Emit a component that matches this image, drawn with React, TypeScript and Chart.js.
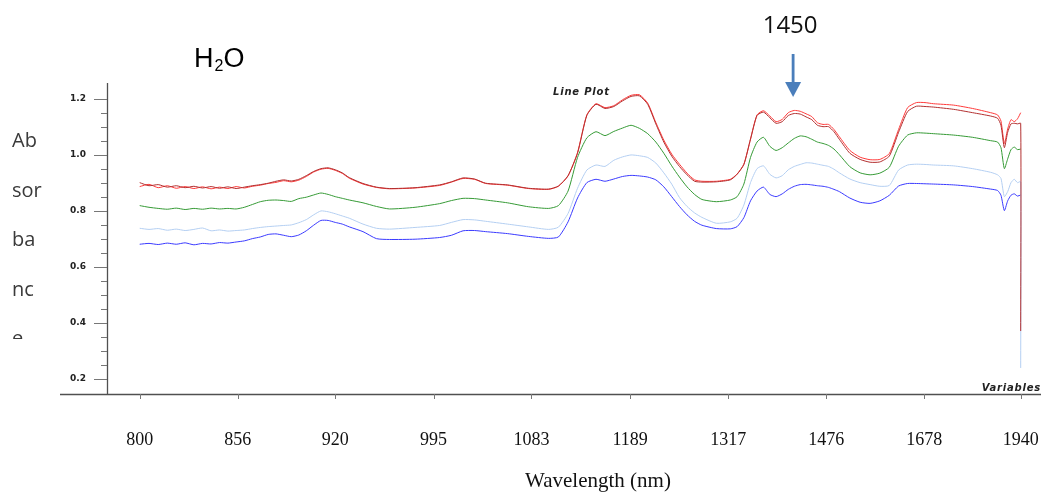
import React, { useEffect, useRef } from "react";
import { Chart, registerables } from "chart.js";

Chart.register(...registerables);

// ---------- data ----------
const WAVELENGTHS_NM = [
  800, 805, 810, 815, 820, 825, 830, 835, 840, 845, 850, 855, 860, 865, 870, 875, 880, 885, 890, 895, 900, 905, 910, 915, 920, 925, 930,
  940, 950, 960, 980, 1000, 1010, 1020, 1030, 1040, 1060, 1080, 1100,
  1110, 1120, 1130, 1140, 1150, 1160, 1170, 1180, 1190, 1200, 1210, 1220, 1230, 1240, 1250, 1260, 1270, 1280,
  1300, 1320, 1330, 1340, 1350, 1360, 1370, 1380, 1390, 1400, 1410, 1420, 1430, 1440, 1450, 1460, 1470, 1480, 1490, 1500,
  1520, 1540, 1560, 1580, 1600, 1620, 1640, 1660, 1680, 1700,
  1750, 1800, 1850, 1870, 1880, 1890, 1900, 1910, 1920, 1930, 1940, 1940,
];

const SERIES_DARK_RED = [
  0.900, 0.889, 0.893, 0.884, 0.889, 0.882, 0.887, 0.881, 0.886, 0.880, 0.885, 0.879, 0.884, 0.889, 0.893, 0.898, 0.905, 0.910, 0.906, 0.912, 0.925, 0.940, 0.950, 0.953, 0.946, 0.935, 0.918,
  0.897, 0.884, 0.879, 0.882, 0.892, 0.903, 0.917, 0.913, 0.898, 0.892, 0.880, 0.877,
  0.888, 0.925, 1.005, 1.140, 1.180, 1.165, 1.172, 1.192, 1.208, 1.210, 1.180, 1.110, 1.045, 0.995, 0.958, 0.928, 0.905, 0.902,
  0.903, 0.910, 0.930, 0.965, 1.055, 1.140, 1.152, 1.132, 1.112, 1.118, 1.140, 1.147, 1.145, 1.135, 1.125, 1.105, 1.100, 1.100, 1.082, 1.055,
  1.005, 0.983, 0.973, 0.974, 0.995, 1.080, 1.154, 1.173, 1.172, 1.170,
  1.162, 1.150, 1.138, 1.130, 1.105, 1.025, 1.080, 1.110, 1.112, 1.110, 1.112, 0.370,
];

const SERIES_RED = [
  0.886, 0.894, 0.882, 0.889, 0.880, 0.886, 0.879, 0.885, 0.878, 0.884, 0.879, 0.886, 0.881, 0.887, 0.891, 0.897, 0.901, 0.907, 0.903, 0.909, 0.922, 0.938, 0.948, 0.951, 0.944, 0.933, 0.916,
  0.895, 0.883, 0.878, 0.881, 0.890, 0.902, 0.915, 0.912, 0.897, 0.891, 0.879, 0.876,
  0.887, 0.924, 1.008, 1.142, 1.182, 1.168, 1.175, 1.196, 1.212, 1.214, 1.184, 1.115, 1.052, 1.002, 0.966, 0.934, 0.910, 0.905,
  0.905, 0.912, 0.931, 0.966, 1.056, 1.142, 1.157, 1.138, 1.118, 1.126, 1.150, 1.158, 1.155, 1.146, 1.136, 1.114, 1.108, 1.108, 1.090, 1.064,
  1.015, 0.991, 0.982, 0.983, 1.004, 1.090, 1.168, 1.186, 1.186, 1.182,
  1.177, 1.165, 1.150, 1.142, 1.120, 1.040, 1.092, 1.125, 1.118, 1.128, 1.150, 1.150,
];

const SERIES_GREEN = [
  0.818, 0.812, 0.808, 0.805, 0.809, 0.804, 0.808, 0.805, 0.809, 0.806, 0.808, 0.806, 0.812, 0.822, 0.832, 0.837, 0.838, 0.836, 0.833, 0.843, 0.848, 0.856, 0.863, 0.858, 0.850, 0.844, 0.838,
  0.828, 0.815, 0.806, 0.812, 0.825, 0.836, 0.844, 0.843, 0.838, 0.828, 0.814, 0.808,
  0.818, 0.870, 0.990, 1.060, 1.082, 1.068, 1.083, 1.095, 1.105, 1.094, 1.075, 1.045, 1.005, 0.960, 0.920, 0.885, 0.858, 0.840,
  0.832, 0.838, 0.850, 0.895, 0.990, 1.045, 1.062, 1.030, 1.015, 1.025, 1.042, 1.058, 1.067, 1.064, 1.055, 1.045, 1.040, 1.033, 1.020, 1.000,
  0.957, 0.935, 0.928, 0.934, 0.955, 1.030, 1.070, 1.078, 1.077, 1.075,
  1.070, 1.062, 1.050, 1.045, 1.025, 0.950, 0.985, 1.018, 1.027, 1.018, 1.020, 1.020,
];

const SERIES_LIGHT_BLUE = [
  0.737, 0.733, 0.736, 0.730, 0.734, 0.729, 0.733, 0.738, 0.728, 0.731, 0.727, 0.729, 0.731, 0.736, 0.740, 0.743, 0.745, 0.747, 0.749, 0.757, 0.768, 0.785, 0.799, 0.796, 0.789, 0.781, 0.773,
  0.752, 0.737, 0.734, 0.740, 0.747, 0.758, 0.768, 0.767, 0.762, 0.752, 0.742, 0.733,
  0.741, 0.790, 0.880, 0.945, 0.963, 0.958, 0.980, 0.992, 0.999, 0.996, 0.990, 0.970, 0.935, 0.895, 0.847, 0.815, 0.792, 0.776,
  0.755, 0.760, 0.773, 0.820, 0.900, 0.950, 0.960, 0.930, 0.917, 0.925, 0.946, 0.958, 0.965, 0.971, 0.970, 0.966, 0.962, 0.958, 0.948, 0.935,
  0.913, 0.900, 0.893, 0.887, 0.890, 0.945, 0.963, 0.966, 0.965, 0.963,
  0.960, 0.950, 0.937, 0.928, 0.915, 0.850, 0.868, 0.900, 0.912, 0.900, 0.904, 0.238,
];

const SERIES_BLUE = [
  0.680, 0.683, 0.679, 0.684, 0.680, 0.685, 0.678, 0.683, 0.681, 0.686, 0.684, 0.688, 0.692, 0.700, 0.706, 0.715, 0.717, 0.712, 0.707, 0.713, 0.728, 0.748, 0.765, 0.765, 0.758, 0.752, 0.742,
  0.725, 0.700, 0.697, 0.698, 0.704, 0.712, 0.728, 0.729, 0.725, 0.718, 0.708, 0.701,
  0.706, 0.760, 0.845, 0.900, 0.912, 0.905, 0.913, 0.922, 0.926, 0.924, 0.920, 0.910, 0.885, 0.850, 0.815, 0.785, 0.762, 0.748,
  0.736, 0.735, 0.743, 0.775, 0.835, 0.870, 0.884, 0.858, 0.850, 0.860, 0.876, 0.887, 0.893, 0.894, 0.892, 0.889, 0.887, 0.883, 0.876, 0.868,
  0.845, 0.830, 0.826, 0.835, 0.855, 0.888, 0.897, 0.897, 0.896, 0.895,
  0.892, 0.886, 0.877, 0.872, 0.855, 0.800, 0.835, 0.855, 0.860, 0.852, 0.856, 0.856,
];

const X_TICKS_NM = [800, 856, 920, 995, 1083, 1189, 1317, 1476, 1678, 1940];
const Y_TICKS = [0.2, 0.25, 0.3, 0.35, 0.4, 0.45, 0.5, 0.55, 0.6, 0.65, 0.7, 0.75, 0.8, 0.85, 0.9, 0.95, 1.0, 1.05, 1.1, 1.15, 1.2];
const Y_LABELED = [0.2, 0.4, 0.6, 0.8, 1.0, 1.2];
const Y_TITLE_LINES = ["Ab", "sor", "ba", "nc", "e"];
const ARROW_NM = 1418;
const ARROW_LABEL = "1450";

const toWn = (nm: number) => 1e7 / nm;

const SERIES = [
  { label: "S1", data: SERIES_DARK_RED, color: "#b22f2f" },
  { label: "S2", data: SERIES_RED, color: "#ff3a3a" },
  { label: "S3", data: SERIES_GREEN, color: "#359a35" },
  { label: "S4", data: SERIES_LIGHT_BLUE, color: "#b4cff2" },
  { label: "S5", data: SERIES_BLUE, color: "#3a3aff" },
];

const decorPlugin = {
  id: "decor",
  afterDraw(chart: any) {
    const { ctx, chartArea, scales } = chart;
    const xs = scales.x;
    const ys = scales.y;
    ctx.save();

    // axis lines
    ctx.strokeStyle = "#505050";
    ctx.lineWidth = 1.3;
    ctx.beginPath();
    ctx.moveTo(60, chartArea.bottom + 0.5);
    ctx.lineTo(chart.width, chartArea.bottom + 0.5);
    ctx.moveTo(chartArea.left + 0.5, chartArea.top);
    ctx.lineTo(chartArea.left + 0.5, chartArea.bottom);
    ctx.stroke();

    // y tick marks
    ctx.strokeStyle = "#777";
    ctx.lineWidth = 1;
    Y_TICKS.forEach((v) => {
      const py = Math.round(ys.getPixelForValue(v)) + 0.5;
      const major = Y_LABELED.some((l) => Math.abs(l - v) < 1e-6);
      ctx.beginPath();
      ctx.moveTo(chartArea.left - (major ? 13 : 6), py);
      ctx.lineTo(chartArea.left, py);
      ctx.stroke();
    });

    // x tick marks
    X_TICKS_NM.forEach((nm) => {
      const px = Math.round(xs.getPixelForValue(toWn(nm))) + 0.5;
      ctx.beginPath();
      ctx.moveTo(px, chartArea.bottom);
      ctx.lineTo(px, chartArea.bottom + 5);
      ctx.stroke();
    });

    // H2O
    ctx.fillStyle = "#000";
    ctx.textBaseline = "alphabetic";
    ctx.textAlign = "left";
    ctx.font = "27px 'Liberation Sans', Arial, sans-serif";
    ctx.fillText("H", 194, 67);
    const hw = ctx.measureText("H").width;
    ctx.font = "16px 'Liberation Sans', Arial, sans-serif";
    ctx.fillText("2", 194 + hw + 1, 71);
    const tw = ctx.measureText("2").width;
    ctx.font = "27px 'Liberation Sans', Arial, sans-serif";
    ctx.fillText("O", 194 + hw + tw + 1, 67);

    // y title (stacked, bottom clipped)
    ctx.save();
    ctx.beginPath();
    ctx.rect(0, 0, 100, 339);
    ctx.clip();
    ctx.fillStyle = "#3a3a3a";
    ctx.font = "20px 'Open Sans', sans-serif";
    Y_TITLE_LINES.forEach((t, i) => {
      ctx.fillText(t, 12, 147 + i * 49.5);
    });
    ctx.restore();

    // arrow + label
    const ax = xs.getPixelForValue(toWn(ARROW_NM));
    ctx.fillStyle = "#4a7ebb";
    ctx.fillRect(ax - 1.4, 54, 2.8, 29);
    ctx.beginPath();
    ctx.moveTo(ax - 8, 82);
    ctx.lineTo(ax + 8, 82);
    ctx.lineTo(ax, 97);
    ctx.closePath();
    ctx.fill();
    ctx.fillStyle = "#111";
    ctx.textAlign = "center";
    ctx.font = "24px 'Open Sans', sans-serif";
    ctx.fillText(ARROW_LABEL, ax - 3, 33);

    // small italic labels
    ctx.fillStyle = "#222";
    ctx.font = "italic bold 10px 'DejaVu Sans', sans-serif";
    (ctx as any).letterSpacing = "0.8px";
    ctx.textAlign = "left";
    ctx.fillText("Line Plot", 553, 95);
    ctx.textAlign = "right";
    ctx.fillText("Variables", chart.width, 391);
    (ctx as any).letterSpacing = "0px";

    // x title
    ctx.fillStyle = "#111";
    ctx.textAlign = "center";
    ctx.font = "21px 'Liberation Serif', 'Times New Roman', serif";
    ctx.fillText("Wavelength (nm)", 598, 487);

    ctx.restore();
  },
};

export default function App() {
  const canvasRef = useRef<HTMLCanvasElement | null>(null);

  useEffect(() => {
    document.body.style.margin = "0";
    const canvas = canvasRef.current;
    if (!canvas) return;

    const datasets = SERIES.map((s) => ({
      label: s.label,
      data: WAVELENGTHS_NM.map((nm, i) => ({ x: toWn(nm), y: s.data[i] })),
      borderColor: s.color,
      backgroundColor: s.color,
      borderWidth: 1,
      pointRadius: 0,
      tension: 0.2,
      fill: false,
    }));

    const chart = new Chart(canvas, {
      type: "line",
      data: { datasets },
      options: {
        animation: false,
        responsive: false,
        maintainAspectRatio: false,
        layout: { padding: { top: 83, right: 0, bottom: 0, left: 0 } },
        plugins: {
          legend: { display: false },
          tooltip: { enabled: false },
          title: { display: false },
        },
        scales: {
          x: {
            type: "linear",
            reverse: true,
            min: 4985.4,
            max: 12772.6,
            grid: { display: false, drawTicks: false },
            border: { display: false },
            afterBuildTicks: (scale: any) => {
              scale.ticks = X_TICKS_NM.map((nm) => ({ value: toWn(nm) }));
            },
            afterFit: (scale: any) => {
              scale.height = 98;
              scale.paddingLeft = 0;
              scale.paddingRight = 0;
            },
            ticks: {
              autoSkip: false,
              maxRotation: 0,
              padding: 35,
              color: "#111",
              font: { family: "'Liberation Serif', 'Times New Roman', serif", size: 18 },
              callback: (_v: any, i: number) => String(X_TICKS_NM[i]),
            },
          },
          y: {
            type: "linear",
            min: 0.145,
            max: 1.256,
            grid: { display: false, drawTicks: false },
            border: { display: false },
            afterBuildTicks: (scale: any) => {
              scale.ticks = Y_TICKS.map((v) => ({ value: v }));
            },
            afterFit: (scale: any) => {
              scale.width = 107;
              scale.paddingTop = 0;
              scale.paddingBottom = 0;
            },
            ticks: {
              autoSkip: false,
              padding: 21,
              color: "#222",
              font: { family: "'DejaVu Sans', sans-serif", size: 9, weight: "bold" },
              callback: (v: any) => {
                const val = Number(v);
                return Y_LABELED.some((l) => Math.abs(l - val) < 1e-6) ? val.toFixed(1) : "";
              },
            },
          },
        },
      },
      plugins: [decorPlugin],
    } as any);

    return () => chart.destroy();
  }, []);

  return (
    <div style={{ width: 1041, height: 492 }}>
      <canvas ref={canvasRef} width={1041} height={492} style={{ display: "block" }} />
    </div>
  );
}
